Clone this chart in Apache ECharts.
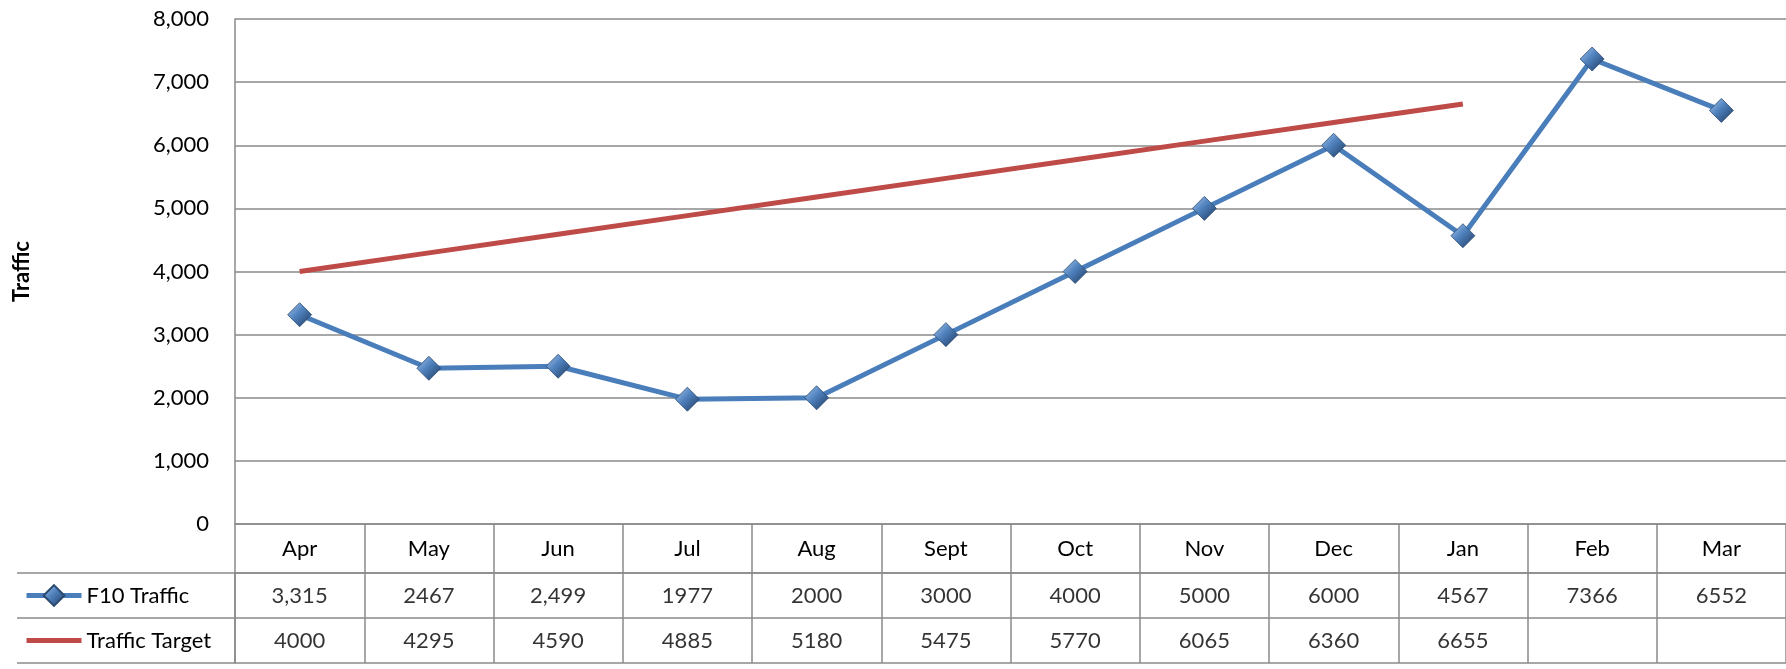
<!DOCTYPE html>
<html>
<head>
<meta charset="utf-8">
<title>F10 Traffic</title>
<script src="https://cdn.jsdelivr.net/npm/echarts@6/dist/echarts.min.js"></script>
<style>
  html, body { margin: 0; padding: 0; background: #fff; }
  #chart { width: 1786px; height: 669px; }
</style>
</head>
<body>
<div id="chart"></div>
<script>
// data
const months = ["Apr", "May", "Jun", "Jul", "Aug", "Sept", "Oct", "Nov", "Dec", "Jan", "Feb", "Mar"];
const f10Traffic = [3315, 2467, 2499, 1977, 2000, 3000, 4000, 5000, 6000, 4567, 7366, 6552];
const trafficTarget = [4000, 4295, 4590, 4885, 5180, 5475, 5770, 6065, 6360, 6655, null, null];
// table text, as printed in the data table
const f10Labels = ["3,315", "2467", "2,499", "1977", "2000", "3000", "4000", "5000", "6000", "4567", "7366", "6552"];
const targetLabels = ["4000", "4295", "4590", "4885", "5180", "5475", "5770", "6065", "6360", "6655", "", ""];
const tableRows = ["F10 Traffic", "Traffic Target"];
const yMin = 0, yMax = 8000, yStep = 1000;

const FONT = "Lato";
const GRID_LINE = "#8a8a8a";
const BLUE = "#4a7ebb";
const RED = "#be4b48";

const diamondFill = new echarts.graphic.LinearGradient(0, 0, 1, 1, [
  { offset: 0, color: "#a9c8ee" },
  { offset: 0.45, color: "#4f81bd" },
  { offset: 1, color: "#1d375c" },
]);

const cells = [];
months.forEach((m, i) => {
  cells.push([m, tableRows[0], f10Labels[i]]);
  cells.push([m, tableRows[1], targetLabels[i]]);
});

const chart = echarts.init(document.getElementById("chart"));
chart.setOption({
  animation: false,
  textStyle: { fontFamily: FONT },
  grid: [
    { left: 235, top: 19, width: 1560, height: 505 },
    { left: 235, top: 573, width: 1560, height: 90 },
  ],
  legend: {
    orient: "vertical",
    left: 24,
    top: 573,
    padding: 0,
    itemGap: 0,
    itemWidth: 55,
    itemHeight: 26,
    lineStyle: { width: 5 },
    textStyle: { fontFamily: FONT, fontSize: 22, color: "#000", lineHeight: 45 },
    data: [
      { name: "F10 Traffic" },
      { name: "Traffic Target", icon: "path://M0,0H110V10H0Z" },
    ],
  },
  xAxis: [
    {
      gridIndex: 0,
      type: "category",
      data: months,
      axisLine: { lineStyle: { color: GRID_LINE, width: 1.5 } },
      axisTick: { show: false },
      axisLabel: { fontFamily: FONT, fontSize: 22, color: "#000", margin: 14, interval: 0 },
    },
    {
      gridIndex: 1,
      type: "category",
      data: months,
      position: "top",
      axisLine: { lineStyle: { color: GRID_LINE, width: 1.5 } },
      axisTick: { show: true, interval: 0, length: 49, lineStyle: { color: GRID_LINE, width: 1.5 } },
      axisLabel: { show: false },
      splitLine: { show: true, interval: 0, lineStyle: { color: GRID_LINE, width: 1.5 } },
    },
  ],
  yAxis: [
    {
      gridIndex: 0,
      type: "value",
      min: yMin,
      max: yMax,
      interval: yStep,
      name: "Traffic",
      nameLocation: "middle",
      nameGap: 202,
      nameTextStyle: { fontFamily: FONT, fontSize: 22, fontWeight: "bold", color: "#000" },
      axisLine: { show: true, lineStyle: { color: GRID_LINE, width: 1.5 } },
      axisTick: { show: false },
      axisLabel: {
        fontFamily: FONT,
        fontSize: 22,
        color: "#000",
        margin: 26,
        formatter: (v) => v.toLocaleString("en-US"),
      },
      splitLine: { lineStyle: { color: GRID_LINE, width: 1.5 } },
    },
    {
      gridIndex: 1,
      type: "category",
      data: tableRows,
      inverse: true,
      axisLine: { show: true, lineStyle: { color: GRID_LINE, width: 1.5 } },
      axisTick: { show: true, interval: 0, length: 218, lineStyle: { color: GRID_LINE, width: 1.5 } },
      axisLabel: { show: false },
      splitLine: { show: true, interval: 0, lineStyle: { color: GRID_LINE, width: 1.5 } },
    },
    {
      // left border of the legend column
      gridIndex: 1,
      type: "category",
      data: tableRows,
      inverse: true,
      offset: 218,
      axisLine: { show: true, lineStyle: { color: GRID_LINE, width: 1.5 } },
      axisTick: { show: false },
      axisLabel: { show: false },
    },
  ],
  series: [
    {
      name: "Traffic Target",
      type: "line",
      xAxisIndex: 0,
      yAxisIndex: 0,
      data: trafficTarget,
      symbol: "none",
      lineStyle: { color: RED, width: 5 },
      itemStyle: { color: RED },
      z: 2,
    },
    {
      name: "F10 Traffic",
      type: "line",
      xAxisIndex: 0,
      yAxisIndex: 0,
      data: f10Traffic,
      symbol: "diamond",
      symbolSize: 24,
      lineStyle: { color: BLUE, width: 5 },
      itemStyle: { color: diamondFill, borderColor: "#2b4a72", borderWidth: 0.8 },
      z: 3,
    },
    {
      name: "table",
      type: "scatter",
      xAxisIndex: 1,
      yAxisIndex: 1,
      data: cells,
      symbolSize: 0,
      silent: true,
      label: {
        show: true,
        position: "inside",
        fontFamily: FONT,
        fontSize: 22,
        color: "#000",
        formatter: (p) => p.value[2],
      },
    },
  ],
});
</script>
</body>
</html>
